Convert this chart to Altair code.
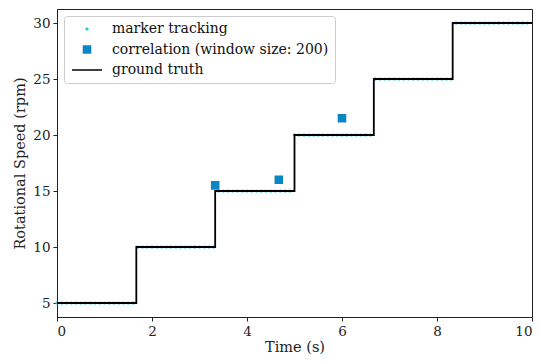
import altair as alt
import pandas as pd

# Ground truth step profile
gt_time = [0.0, 1.67, 3.33, 5.0, 6.67, 8.33, 10.0]
gt_speed = [5, 10, 15, 20, 25, 30, 30]

# Marker tracking estimates
marker_time = [0.0, 0.1, 0.2, 0.3, 0.4, 0.5, 0.6, 0.7, 0.8, 0.9, 1.0, 1.1, 1.2, 1.3, 1.4, 1.5, 1.6,
               1.7, 1.8, 1.9, 2.0, 2.1, 2.2, 2.3, 2.4, 2.5, 2.6, 2.7, 2.8, 2.9, 3.0, 3.1, 3.2, 3.3,
               3.4, 3.5, 3.6, 3.7, 3.8, 3.9, 4.0, 4.1, 4.2, 4.3, 4.4, 4.5, 4.6, 4.7, 4.8, 4.9,
               5.0, 5.1, 5.2, 5.3, 5.4, 5.5, 5.6, 5.7, 5.8, 5.9, 6.0, 6.1, 6.2, 6.3, 6.4, 6.5, 6.6,
               6.7, 6.8, 6.9, 7.0, 7.1, 7.2, 7.3, 7.4, 7.5, 7.6, 7.7, 7.8, 7.9, 8.0, 8.1, 8.2, 8.3,
               8.4, 8.5, 8.6, 8.7, 8.8, 8.9, 9.0, 9.1, 9.2, 9.3, 9.4, 9.5, 9.6, 9.7, 9.8, 9.9]
marker_speed = [5, 5, 5, 5, 5, 5, 5, 5, 5, 5, 5, 5, 5, 5, 5, 5, 5,
                10, 10, 10, 10, 10, 10, 10, 10, 10, 10, 10, 10, 10, 10, 10, 10, 10,
                15, 15, 15, 15, 15, 15, 15, 15, 15, 15, 15, 15, 15, 15, 15, 15,
                20, 20, 20, 20, 20, 20, 20, 20, 20, 20, 20, 20, 20, 20, 20, 20, 20,
                25, 25, 25, 25, 25, 25, 25, 25, 25, 25, 25, 25, 25, 25, 25, 25, 25,
                30, 30, 30, 30, 30, 30, 30, 30, 30, 30, 30, 30, 30, 30, 30, 30]

# Correlation estimates (window size 200)
corr_time = [3.33, 4.67, 6.0]
corr_speed = [15.5, 16.0, 21.5]

series = ["marker tracking", "correlation (window size: 200)", "ground truth"]
colors = ["#22c8d8", "#0b86c4", "#000000"]
shapes = ["circle", "square", "M-3,0L3,0"]
sizes = [3, 50, 100]

FONT = "DejaVu Serif"

pts = pd.concat([
    pd.DataFrame({"t": marker_time, "v": marker_speed, "series": series[0]}),
    pd.DataFrame({"t": corr_time, "v": corr_speed, "series": series[1]}),
])
gt = pd.DataFrame({"t": gt_time, "v": gt_speed})

xscale = alt.Scale(domain=[0, 10], nice=False, zero=False)
yscale = alt.Scale(domain=[3.75, 31.25], nice=False, zero=False)
xaxis = alt.Axis(title="Time (s)", values=[0, 2, 4, 6, 8, 10], format="d", grid=False)
yaxis = alt.Axis(title="Rotational Speed (rpm)", values=[5, 10, 15, 20, 25, 30], format="d", grid=False)

line = alt.Chart(gt).mark_line(interpolate="step-after", color="black", strokeWidth=1.8).encode(
    x=alt.X("t:Q", scale=xscale, axis=xaxis),
    y=alt.Y("v:Q", scale=yscale, axis=yaxis),
)

legend = alt.Legend(
    title=None, orient="top-left", offset=7,
    labelFont=FONT, labelFontSize=14, labelColor="#111111", labelOffset=18, labelLimit=400,
    strokeColor="#cccccc", fillColor="white", cornerRadius=3, padding=6,
    rowPadding=6.5, symbolOffset=10,
)

points = alt.Chart(pts).mark_point(filled=False, opacity=1, strokeWidth=1.5).encode(
    x=alt.X("t:Q", scale=xscale, axis=xaxis),
    y=alt.Y("v:Q", scale=yscale, axis=yaxis),
    stroke=alt.Stroke("series:N", scale=alt.Scale(domain=series, range=colors), legend=legend),
    fill=alt.Fill("series:N", scale=alt.Scale(domain=series, range=colors), legend=legend),
    shape=alt.Shape("series:N", scale=alt.Scale(domain=series, range=shapes), legend=legend),
    size=alt.Size("series:N", scale=alt.Scale(type="ordinal", domain=series, range=sizes), legend=legend),
)

chart = alt.layer(points, line).properties(
    width=475, height=308,
    autosize=alt.AutoSizeParams(type="none"),
    padding={"left": 57, "top": 9, "right": 9, "bottom": 45},
).configure_view(stroke="#222222", strokeWidth=1).configure_axis(
    labelFont=FONT, titleFont=FONT, labelFontSize=13.5, titleFontSize=14.5,
    labelColor="#222222", titleColor="#222222", titleFontWeight="normal",
    domainColor="#222222", tickColor="#222222", tickSize=4, labelPadding=3,
).configure_axisX(titlePadding=3).configure_axisY(titlePadding=5)

chart.save("out.html", embed_options={"renderer": "svg", "actions": False})
